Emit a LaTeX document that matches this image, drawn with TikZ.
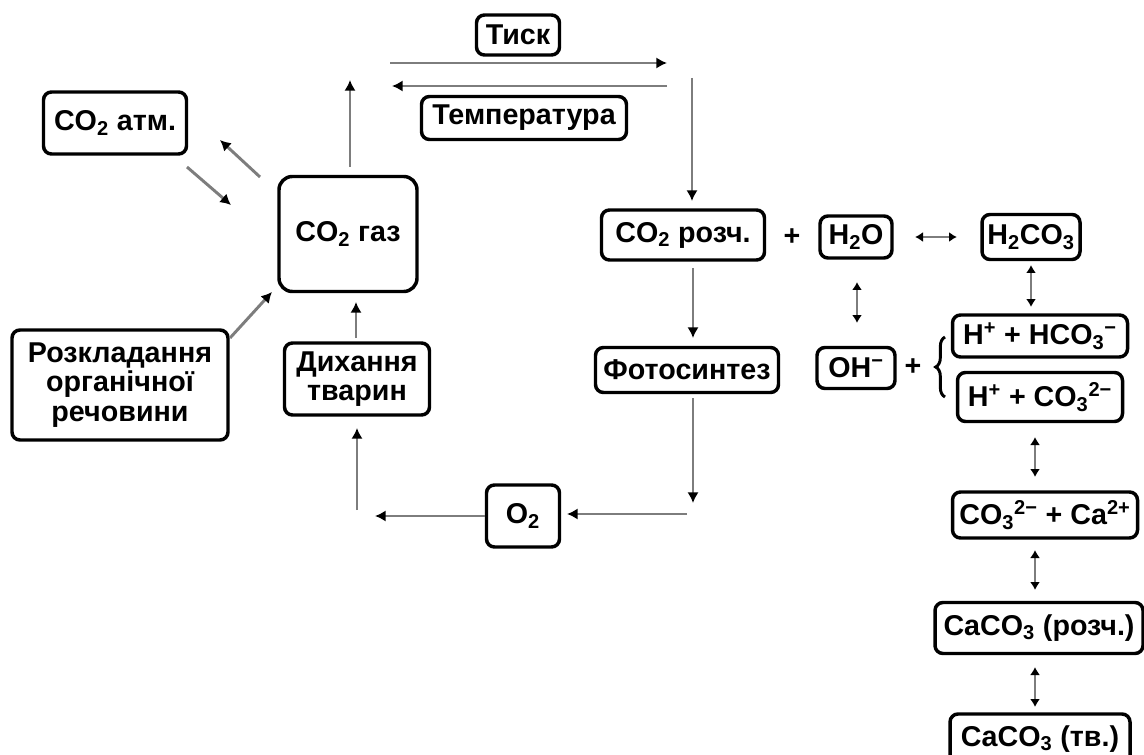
\documentclass[tikz,border=0pt]{standalone}
\usepackage{fontspec}
\setmainfont{Liberation Sans}
\usetikzlibrary{arrows.meta,decorations.pathreplacing}
\definecolor{lineg}{RGB}{125,125,125}
\begin{document}
\begin{tikzpicture}[x=0.75pt,y=-0.75pt,
  box/.style={draw=black,line width=2.6pt,rounded corners=6pt,inner sep=1pt,align=center,
    font=\fontsize{21.5}{22}\selectfont\bfseries},
  sz/.style 2 args={minimum width=#1*0.75pt,minimum height=#2*0.75pt},
  conn/.style={draw=lineg,line width=2.2pt,-{Latex[length=8pt,width=8.5pt,color=black]}},
  dbl/.style={draw=lineg,line width=2pt,{Latex[length=6pt,width=7.5pt,color=black]}-{Latex[length=6pt,width=7.5pt,color=black]}},
  plus/.style={font=\fontsize{21.5}{22}\selectfont\bfseries,inner sep=0pt}]
\useasboundingbox (0,0) rectangle (1144,755);

% nodes
\node[box,sz={143}{62}] (atm) at (115,123) {CO\textsubscript{2} атм.};
\node[box,sz={138}{115},rounded corners=10pt] (gas) at (348,234) {CO\textsubscript{2} газ};
\node[box,sz={83}{40}] (tysk) at (518,35) {Тиск};
\node[box,sz={205}{43}] (temp) at (524,118) {Температура};
\node[box,sz={163}{50}] (rozch) at (683,235) {CO\textsubscript{2} розч.};
\node[plus] (p1) at (792,237) {+};
\node[box,sz={72}{42}] (h2o) at (856,237) {H\textsubscript{2}O};
\node[box,sz={98}{45}] (h2co3) at (1031,237) {H\textsubscript{2}CO\textsubscript{3}};
\node[box,sz={183}{45}] (foto) at (687,370) {Фотосинтез};
\node[box,sz={78}{41}] (oh) at (856,368) {OH\textsuperscript{−}};
\node[plus] (p2) at (913,367) {+};
\node[box,sz={175}{42}] (hhco3) at (1040,336) {H\textsuperscript{+} + HCO\textsubscript{3}\textsuperscript{−}};
\node[box,sz={165}{49}] (hco3) at (1040,397) {H\textsuperscript{+} + CO\textsubscript{3}\textsuperscript{2−}};
\node[box,sz={185}{46}] (co3ca) at (1045,515) {CO\textsubscript{3}\textsuperscript{2−} + Ca\textsuperscript{2+}};
\node[box,sz={208}{51}] (cacor) at (1039,628) {CaCO\textsubscript{3} (розч.)};
\node[box,sz={180}{50}] (cacot) at (1040,739) {CaCO\textsubscript{3} (тв.)};
\node[box,sz={73}{62}] (o2) at (523,516) {O\textsubscript{2}};
\node[box,sz={145}{72}] (dyh) at (357,379) {Дихання\\тварин};
\node[box,sz={216}{110}] (rozk) at (120,385) {Розкладання\\органічної\\речовини};

% free connector ends
\coordinate (ga1) at (260,177); \coordinate (at1) at (220,140);
\coordinate (at2) at (187,167); \coordinate (ga2) at (231,205);
\coordinate (gu1) at (350,167); \coordinate (gu2) at (350,80);
\coordinate (tr1) at (390,63);  \coordinate (tr2) at (667,63);
\coordinate (tl1) at (667,86);  \coordinate (tl2) at (392,86);
\coordinate (dn1) at (692,78);  \coordinate (dn2) at (692,201);
\coordinate (rf1) at (693,268); \coordinate (rf2) at (693,338);
\coordinate (fo1) at (693,398); \coordinate (fo2) at (693,503);
\coordinate (ho1) at (687,514); \coordinate (ho2) at (567,514);
\coordinate (ol) at (375,516);
\coordinate (du1) at (357,510); \coordinate (du2) at (357,428);
\coordinate (dg1) at (356,338); \coordinate (dg2) at (356,302);
\coordinate (rk1) at (230,338); \coordinate (rk2) at (272,292);
\coordinate (e1a) at (915,237);  \coordinate (e1b) at (957,237);
\coordinate (e2a) at (857,282);  \coordinate (e2b) at (857,323);
\coordinate (e3a) at (1031,265); \coordinate (e3b) at (1031,307);
\coordinate (e4a) at (1035,437); \coordinate (e4b) at (1035,477);
\coordinate (e5a) at (1035,550); \coordinate (e5b) at (1035,590);
\coordinate (e6a) at (1035,667); \coordinate (e6b) at (1035,707);
\coordinate (bra) at (945,397);  \coordinate (brb) at (945,337);

% connectors
\draw[conn] (ga1) -- (at1);
\draw[conn] (at2) -- (ga2);
\draw[conn] (gu1) -- (gu2);
\draw[conn] (tr1) -- (tr2);
\draw[conn] (tl1) -- (tl2);
\draw[conn] (dn1) -- (dn2);
\draw[conn] (rf1) -- (rf2);
\draw[conn] (fo1) -- (fo2);
\draw[conn] (ho1) -- (ho2);
\draw[conn] (o2.west) -- (ol);
\draw[conn] (du1) -- (du2);
\draw[conn] (dg1) -- (dg2);
\draw[conn] (rk1) -- (rk2);

% equilibria
\draw[dbl] (e1a) -- (e1b);
\draw[dbl] (e2a) -- (e2b);
\draw[dbl] (e3a) -- (e3b);
\draw[dbl] (e4a) -- (e4b);
\draw[dbl] (e5a) -- (e5b);
\draw[dbl] (e6a) -- (e6b);

% brace
\draw[line width=2.2pt,decorate,decoration={brace,amplitude=7pt}] (bra) -- (brb);
\end{tikzpicture}
\end{document}
